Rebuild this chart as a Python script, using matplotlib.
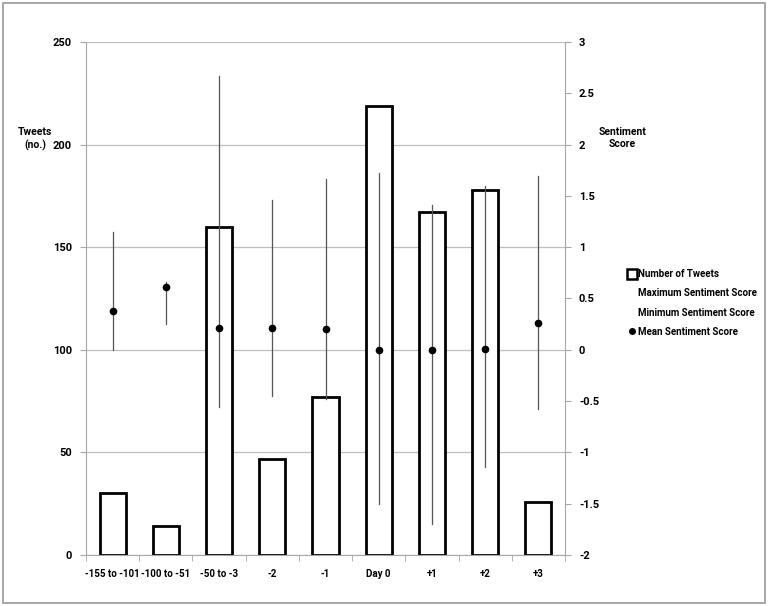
import matplotlib
matplotlib.use("Agg")
import matplotlib.pyplot as plt
from matplotlib.lines import Line2D
from matplotlib.patches import Rectangle

plt.rcParams['font.family'] = ['Roboto', 'DejaVu Sans']
plt.rcParams['font.weight'] = 'bold'

# data
categories = ["-155 to -101", "-100 to -51", "-50 to -3", "-2", "-1",
              "Day 0", "+1", "+2", "+3"]
tweets = [30, 14, 160, 47, 77, 219, 167, 178, 26]
max_score = [1.15, 0.66, 2.67, 1.46, 1.66, 1.72, 1.41, 1.60, 1.69]
min_score = [0.00, 0.25, -0.56, -0.45, -0.48, -1.50, -1.70, -1.14, -0.58]
mean_score = [0.38, 0.61, 0.21, 0.21, 0.20, 0.00, 0.00, 0.01, 0.26]

grid_col = "#bfbfbf"
axis_col = "#a6a6a6"

fig = plt.figure(figsize=(7.68, 6.06), dpi=100)
fig.patches.append(Rectangle((0.004, 0.005), 0.992, 0.99, transform=fig.transFigure,
                             fill=False, edgecolor="#9a9a9a", linewidth=1.2))

ax1 = fig.add_axes([0.112, 0.0842, 0.6237, 0.8465])
x = list(range(len(categories)))

ax1.set_axisbelow(True)
ax1.yaxis.grid(True, color=grid_col, linewidth=0.9)
ax1.bar(x, tweets, width=0.49, facecolor="white", edgecolor="black", linewidth=2, zorder=2)
ax1.set_ylim(0, 250)
ax1.set_yticks(range(0, 251, 50))
ax1.set_xlim(-0.5, len(categories) - 0.5)
ax1.set_xticks(x)
ax1.set_xticklabels(categories)
ax1.set_xticks([i - 0.5 for i in range(len(categories) + 1)], minor=True)
ax1.tick_params(axis="x", which="major", length=0, pad=10, labelsize=7)
ax1.tick_params(axis="x", which="minor", length=4, color=axis_col)
ax1.tick_params(axis="y", length=4, color=axis_col, labelsize=8, pad=6)
for s in ["top", "right"]:
    ax1.spines[s].set_visible(False)
for s in ["left", "bottom"]:
    ax1.spines[s].set_color(axis_col)

ax2 = ax1.twinx()
for i in x:
    ax2.plot([i, i], [min_score[i], max_score[i]], color="#555555", linewidth=0.9, zorder=3)
ax2.plot(x, mean_score, linestyle="none", marker="o", markersize=4.5,
         color="black", zorder=4)
ax2.set_ylim(-2, 3)
ax2.set_yticks([-2, -1.5, -1, -0.5, 0, 0.5, 1, 1.5, 2, 2.5, 3])
ax2.set_yticklabels(["-2", "-1.5", "-1", "-0.5", "0", "0.5", "1", "1.5", "2", "2.5", "3"])
ax2.tick_params(axis="y", length=4, color=axis_col, labelsize=8, pad=6)
for s in ["top", "left", "bottom"]:
    ax2.spines[s].set_visible(False)
ax2.spines["right"].set_color(axis_col)

fig.text(0.046, 0.771, "Tweets\n(no.)", ha="center", va="center", fontsize=7.5,
         fontweight="bold", linespacing=1.3)
fig.text(0.81, 0.772, "Sentiment\nScore", ha="center", va="center", fontsize=7.5,
         fontweight="bold", linespacing=1.3)

handles = [
    Line2D([], [], linestyle="none", marker="s", markersize=7, markerfacecolor="white",
           markeredgecolor="black", markeredgewidth=1.8),
    Line2D([], [], linestyle="none"),
    Line2D([], [], linestyle="none"),
    Line2D([], [], linestyle="none", marker="o", markersize=4, color="black"),
]
labels = ["Number of Tweets", "Maximum Sentiment Score", "Minimum Sentiment Score",
          "Mean Sentiment Score"]
fig.legend(handles, labels, loc="center left", bbox_to_anchor=(0.808, 0.5),
           frameon=False, fontsize=7, handlelength=0.6, handletextpad=0.3,
           labelspacing=0.95)

fig.savefig("out.png", dpi=100)
